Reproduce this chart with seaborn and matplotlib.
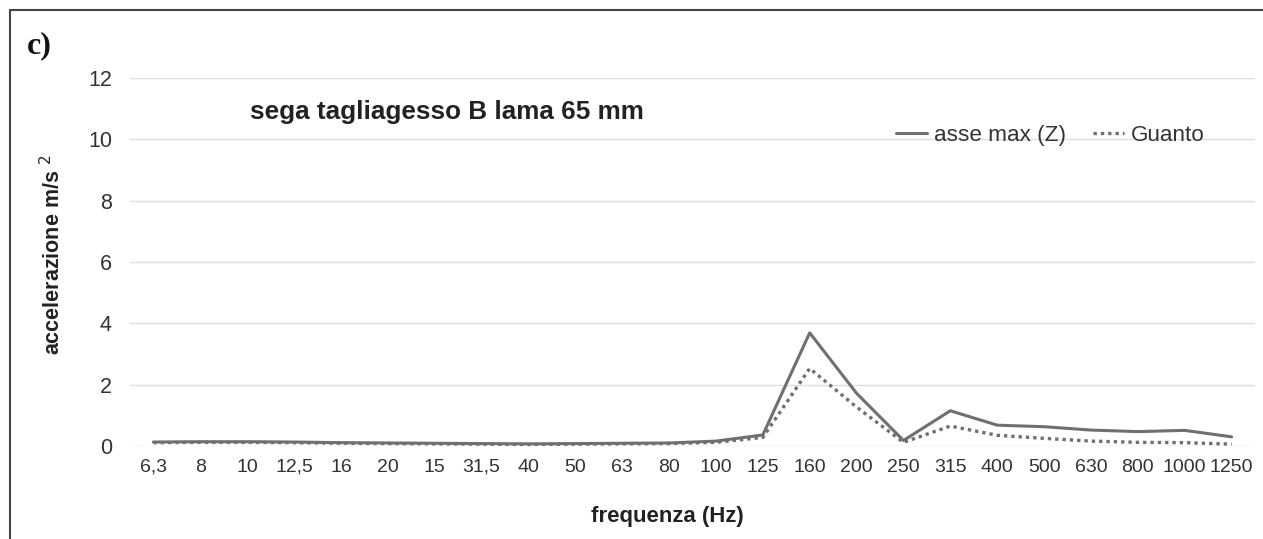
import matplotlib
matplotlib.use("Agg")
import matplotlib.pyplot as plt
import matplotlib.lines as mlines
import seaborn as sns
import pandas as pd

# Third-octave band centre frequencies (Hz), labels as printed
frequencies = ["6,3", "8", "10", "12,5", "16", "20", "15", "31,5", "40", "50",
               "63", "80", "100", "125", "160", "200", "250", "315", "400",
               "500", "630", "800", "1000", "1250"]

# Acceleration along the dominant axis (m/s²)
asse_max_z = [0.13, 0.14, 0.14, 0.13, 0.11, 0.10, 0.09, 0.08, 0.07, 0.08,
              0.09, 0.10, 0.16, 0.36, 3.69, 1.72, 0.18, 1.15, 0.68,
              0.63, 0.52, 0.47, 0.51, 0.30]

# Acceleration measured through the glove (m/s²)
guanto = [0.11, 0.12, 0.12, 0.11, 0.09, 0.08, 0.07, 0.06, 0.05, 0.06,
          0.07, 0.08, 0.12, 0.28, 2.53, 1.27, 0.12, 0.65, 0.35,
          0.25, 0.16, 0.12, 0.11, 0.06]

y_ticks = [0, 2, 4, 6, 8, 10, 12]

df = pd.DataFrame({"freq": frequencies, "z": asse_max_z, "g": guanto})

sns.set_theme(style="white")
plt.rcParams["font.family"] = ["Liberation Sans", "DejaVu Sans"]

fig = plt.figure(figsize=(12.63, 5.39), dpi=100)
ax = fig.add_axes([0.1029, 0.1725, 0.8908, 0.6828])

line_col = "#6f6f6f"
dots = (0, (1, 1.2))
sns.lineplot(data=df, x="freq", y="z", ax=ax, sort=False, color=line_col,
             linewidth=2.2, clip_on=False)
sns.lineplot(data=df, x="freq", y="g", ax=ax, sort=False, color=line_col,
             linewidth=2.4, linestyle=dots, clip_on=False)

ax.set_xlim(-0.5, len(frequencies) - 0.5)
ax.set_ylim(0, 12)
ax.set_yticks(y_ticks)
ax.set_yticklabels([str(t) for t in y_ticks])
ax.yaxis.grid(True, color="#dedede", linewidth=1.0)
ax.set_axisbelow(True)
for s in ax.spines.values():
    s.set_visible(False)
ax.tick_params(axis="both", length=0, colors="#333333")
ax.tick_params(axis="y", pad=13, labelsize=15.5)
ax.tick_params(axis="x", pad=9, labelsize=14)

ax.set_xlabel("frequenza (Hz)", fontsize=16, fontweight="bold",
              color="#222222", va="top")
ax.set_ylabel("accelerazione m/s $^2$", fontsize=15.5, fontweight="bold",
              color="#222222")
ax.xaxis.set_label_coords(0.478, -0.162)
ax.yaxis.set_label_coords(-0.058, 0.52)

ax.text(0.107, 0.907, "sega tagliagesso B lama 65 mm", transform=ax.transAxes,
        fontsize=18.8, fontweight="bold", color="#222222", va="center")

handles = [mlines.Line2D([], [], color=line_col, linewidth=2.2),
           mlines.Line2D([], [], color=line_col, linewidth=2.4,
                         linestyle=dots)]
ax.legend(handles, ["asse max (Z)", "Guanto"], loc="center",
          bbox_to_anchor=(0.818, 0.845), ncol=2, frameon=False,
          fontsize=16.2, handlelength=1.4, handletextpad=0.3,
          columnspacing=1.2, labelcolor="#333333")

# Panel letter and frame around the panel
fig.text(0.021, 0.915, "c)", fontsize=23, fontweight="bold",
         family=["Liberation Serif", "DejaVu Serif"], color="#111111",
         va="center")
x0 = 10 / 1263
y0 = 1 - 10 / 539
fig.add_artist(mlines.Line2D([x0, 1.0], [y0, y0], color="#444444",
                             linewidth=1.5, transform=fig.transFigure))
fig.add_artist(mlines.Line2D([x0, x0], [0.0, y0], color="#444444",
                             linewidth=1.5, transform=fig.transFigure))

fig.savefig("out.png", dpi=100)
